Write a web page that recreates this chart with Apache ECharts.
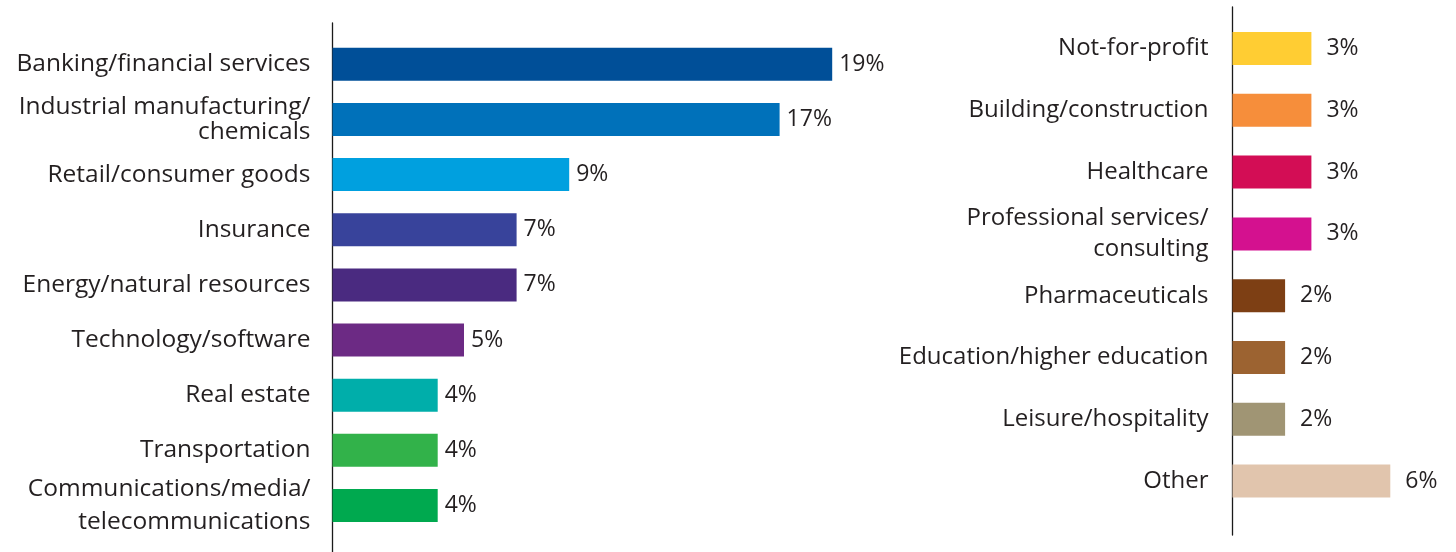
<!DOCTYPE html>
<html>
<head>
<meta charset="utf-8">
<script src="https://cdn.jsdelivr.net/npm/echarts@6/dist/echarts.min.js"></script>
<style>
html,body{margin:0;padding:0;background:#fff;}
#chart{width:1456px;height:552px;}
</style>
</head>
<body>
<div id="chart"></div>
<script>
// Left panel
const leftCategories = [
  'Banking/financial services',
  'Industrial manufacturing/\nchemicals',
  'Retail/consumer goods',
  'Insurance',
  'Energy/natural resources',
  'Technology/software',
  'Real estate',
  'Transportation',
  'Communications/media/\ntelecommunications'
];
const leftValues = [19, 17, 9, 7, 7, 5, 4, 4, 4];
const leftColors = ['#004F98', '#0071BA', '#00A0DF', '#38439B', '#4A2A80', '#6C2A84', '#00AEAA', '#32B24A', '#00A94F'];

// Right panel
const rightCategories = [
  'Not-for-profit',
  'Building/construction',
  'Healthcare',
  'Professional services/\nconsulting',
  'Pharmaceuticals',
  'Education/higher education',
  'Leisure/hospitality',
  'Other'
];
const rightValues = [3, 3, 3, 3, 2, 2, 2, 6];
const rightColors = ['#FFCD33', '#F68E3B', '#D30D55', '#D4118F', '#7D3F14', '#9C6331', '#A09574', '#E1C5AD'];

const FONT = 'Open Sans';
const TXT = '#231F20';
const pxPerPct = 26.3;

function cats(list, lhMap) {
  return list.map((c, i) => ({ value: c, textStyle: { lineHeight: lhMap[i] || 26 } }));
}

const chart = echarts.init(document.getElementById('chart'));
chart.setOption({
  animation: false,
  backgroundColor: '#fff',
  grid: [
    { left: 332.5, top: 36.7, width: 20 * pxPerPct, height: 9 * 55.15 },
    { left: 1232.5, top: 17.6, width: 8 * pxPerPct, height: 8 * 61.8 },
    { left: 332.5, top: 23, width: 10, height: 529 },
    { left: 1232.5, top: 7, width: 10, height: 528 }
  ],
  xAxis: [
    { gridIndex: 0, type: 'value', min: 0, max: 20, show: false },
    { gridIndex: 1, type: 'value', min: 0, max: 8, show: false },
    { gridIndex: 2, type: 'value', min: 0, max: 1, show: false },
    { gridIndex: 3, type: 'value', min: 0, max: 1, show: false }
  ],
  yAxis: [
    {
      gridIndex: 0, type: 'category', inverse: true,
      data: cats(leftCategories, {1: 25, 8: 33}),
      axisLine: { show: false }, axisTick: { show: false },
      axisLabel: { fontFamily: FONT, fontSize: 24.5, color: TXT, margin: 22, align: 'right' }
    },
    {
      gridIndex: 1, type: 'category', inverse: true,
      data: cats(rightCategories, {3: 31}),
      axisLine: { show: false }, axisTick: { show: false },
      axisLabel: { fontFamily: FONT, fontSize: 24, color: TXT, margin: 24, align: 'right' }
    },
    {
      gridIndex: 2, type: 'value', min: 0, max: 1,
      axisLine: { show: true, lineStyle: { color: '#1a1a1a', width: 1.3 } },
      axisTick: { show: false }, axisLabel: { show: false }, splitLine: { show: false }
    },
    {
      gridIndex: 3, type: 'value', min: 0, max: 1,
      axisLine: { show: true, lineStyle: { color: '#1a1a1a', width: 1.3 } },
      axisTick: { show: false }, axisLabel: { show: false }, splitLine: { show: false }
    }
  ],
  series: [
    {
      type: 'bar', xAxisIndex: 0, yAxisIndex: 0, barWidth: 33,
      data: leftValues.map((v, i) => ({ value: v, itemStyle: { color: leftColors[i] } })),
      label: { show: true, position: 'right', distance: 7, formatter: '{c}%', fontFamily: FONT, fontSize: 23, color: TXT, padding: [3, 0, 0, 0] }
    },
    {
      type: 'bar', xAxisIndex: 1, yAxisIndex: 1, barWidth: 33,
      data: rightValues.map((v, i) => ({ value: v, itemStyle: { color: rightColors[i] } })),
      label: { show: true, position: 'right', distance: 15, formatter: '{c}%', fontFamily: FONT, fontSize: 23, color: TXT, padding: [3, 0, 0, 0] }
    }
  ]
});
</script>
</body>
</html>
